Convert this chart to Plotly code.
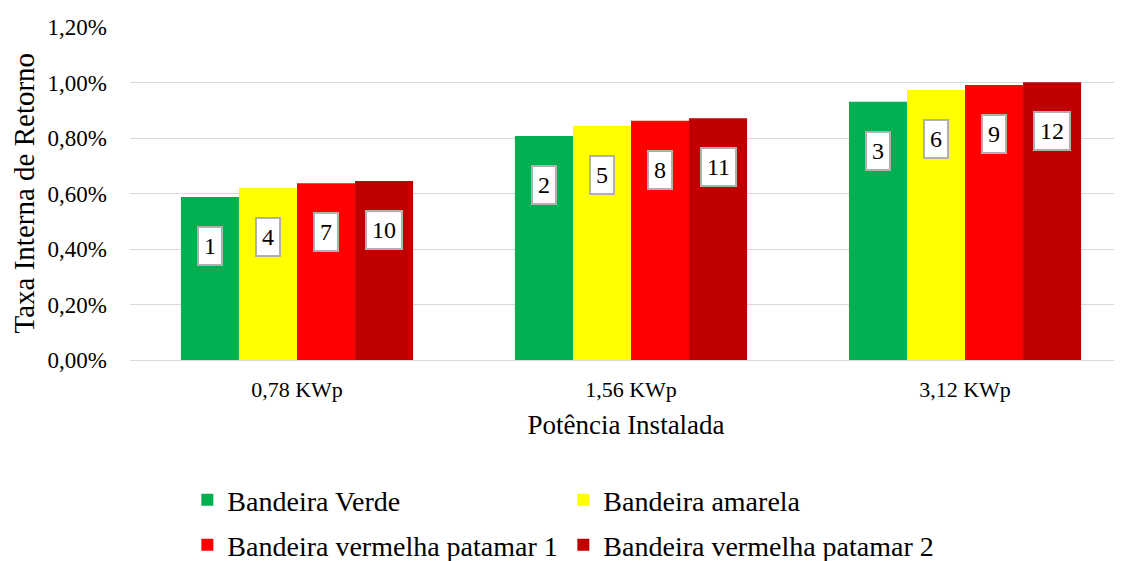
import plotly.graph_objects as go

categories = ["0,78 KWp", "1,56 KWp", "3,12 KWp"]
series_names = ["Bandeira Verde", "Bandeira amarela",
                "Bandeira vermelha patamar 1", "Bandeira vermelha patamar 2"]
verde = [0.00587, 0.00807, 0.00931]
amarela = [0.00621, 0.00844, 0.00973]
vermelha1 = [0.00637, 0.00862, 0.00991]
vermelha2 = [0.00645, 0.00871, 0.01001]
label_verde = ["1", "2", "3"]
label_amarela = ["4", "5", "6"]
label_vermelha1 = ["7", "8", "9"]
label_vermelha2 = ["10", "11", "12"]
y_ticks = [0, 0.002, 0.004, 0.006, 0.008, 0.010, 0.012]

colors = ["#00B050", "#FFFF00", "#FF0000", "#C00000"]
series_values = [verde, amarela, vermelha1, vermelha2]
series_labels = [label_verde, label_amarela, label_vermelha1, label_vermelha2]

FONT = "Liberation Serif, Times New Roman, serif"
BARGAP = 0.305

fig = go.Figure()
for j, (name, vals, col) in enumerate(zip(series_names, series_values, colors)):
    fig.add_trace(go.Bar(
        x=categories, y=vals, name=name,
        marker=dict(color=col, line=dict(width=0)),
        legend="legend" if j < 2 else "legend2",
        hoverinfo="skip",
    ))

# data labels (boxes) centred on each bar, a little below the bar top
bar_w = (1 - BARGAP) / len(series_values)
for j, (vals, labs) in enumerate(zip(series_values, series_labels)):
    off = (j - (len(series_values) - 1) / 2) * bar_w
    for i, (v, t) in enumerate(zip(vals, labs)):
        fig.add_annotation(
            x=i + off, y=v, xref="x", yref="y", text=t,
            showarrow=False, yshift=-49, yanchor="middle",
            font=dict(family=FONT, size=24, color="black"),
            bgcolor="white", bordercolor="#b0b0b0", borderwidth=2, borderpad=5,
        )

# y-axis title placed as a rotated annotation
fig.add_annotation(
    x=0, y=0.5, xref="paper", yref="paper", xanchor="center", yanchor="middle",
    xshift=-107, textangle=-90, showarrow=False,
    text="Taxa Interna de Retorno",
    font=dict(family=FONT, size=29, color="black"),
)

legend_common = dict(orientation="h", xref="container", yref="container",
                     xanchor="left", yanchor="middle",
                     entrywidth=331, entrywidthmode="pixels", itemwidth=30,
                     font=dict(family=FONT, size=28, color="black"),
                     bgcolor="rgba(0,0,0,0)", traceorder="normal")

fig.update_layout(
    width=1114, height=553,
    margin=dict(l=122, r=0, t=19, b=201),
    paper_bgcolor="white", plot_bgcolor="white",
    barmode="group", bargap=BARGAP, bargroupgap=0,
    separators=",.",
    font=dict(family=FONT, color="black"),
    legend=dict(x=0.161, y=0.110, **legend_common),
    legend2=dict(x=0.161, y=0.029, **legend_common),
    showlegend=True,
)

fig.update_xaxes(
    range=[-0.5, 2.47], showgrid=False, showline=False, zeroline=False,
    ticks="", tickfont=dict(family=FONT, size=22, color="black"),
    ticklabelstandoff=14,
    title=dict(text="Potência Instalada", font=dict(family=FONT, size=27, color="black"),
               standoff=14),
    automargin=False,
)
fig.update_yaxes(
    range=[0, 0.012], tickvals=y_ticks, tickformat=".2%",
    showgrid=True, gridcolor="#d9d9d9", gridwidth=1,
    zeroline=True, zerolinecolor="#d9d9d9", zerolinewidth=1,
    showline=False, ticks="",
    tickfont=dict(family=FONT, size=23, color="black"),
    ticklabelstandoff=22,
    automargin=False,
)

fig.write_html("out.html")
